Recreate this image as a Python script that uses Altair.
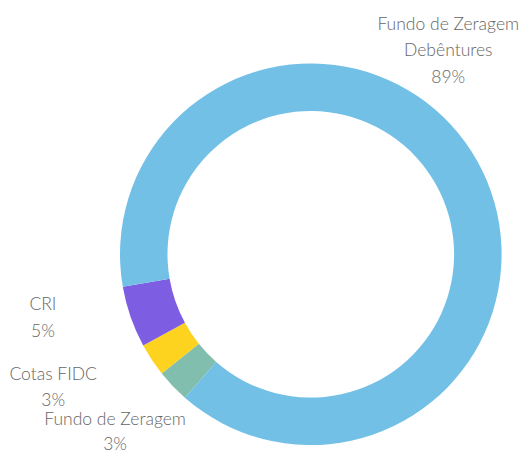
import math
import altair as alt
import pandas as pd

categories = ["Fundo de Zeragem", "Cotas FIDC", "CRI", "Fundo de Zeragem\nDebêntures"]
values = [2.8, 2.8, 5.2, 89.2]
colors = ["#82BEAE", "#FDD31F", "#7D5DE2", "#73C0E7"]

df = pd.DataFrame({
    "cat": categories,
    "value": values,
    "ord": list(range(len(categories))),
})
df["label"] = df["cat"] + "\n" + df["value"].round().astype(int).astype(str) + "%"

start = math.radians(221.3)
theta_scale = alt.Scale(domain=[0, sum(values)], range=[start, start + 2 * math.pi])

base = alt.Chart(df).encode(
    theta=alt.Theta("value:Q", stack=True, scale=theta_scale),
    order=alt.Order("ord:Q"),
)

arcs = base.mark_arc(outerRadius=190.8, innerRadius=143.3).encode(
    color=alt.Color("cat:N", scale=alt.Scale(domain=categories, range=colors), legend=None)
)

# (dx, dy, line height) per label
offsets = {
    "Fundo de Zeragem": (-51, 28, 25),
    "Cotas FIDC": (-91, 10, 26.5),
    "CRI": (-79, -15, 26.5),
    "Fundo de Zeragem\nDebêntures": (-37, -132, 26.5),
}

layers = [arcs]
for cat, (dx, dy, lh) in offsets.items():
    layers.append(
        base.mark_text(
            radius=200, dx=dx, dy=dy, align="center", baseline="middle",
            font="Lato Light", fontWeight=300, fontSize=17.5, color="#666666",
            lineBreak="\n", lineHeight=lh,
        ).encode(
            text=alt.condition(alt.datum.cat == cat, alt.Text("label:N"), alt.value(""))
        )
    )

chart = alt.layer(*layers).properties(
    width=390, height=390,
    padding={"left": 107.8, "right": 15.2, "top": 51.3, "bottom": 5.7},
    autosize=alt.AutoSizeParams(type="none"),
).configure_view(stroke=None)

chart.save("out.html", embed_options={"renderer": "svg", "actions": False})
